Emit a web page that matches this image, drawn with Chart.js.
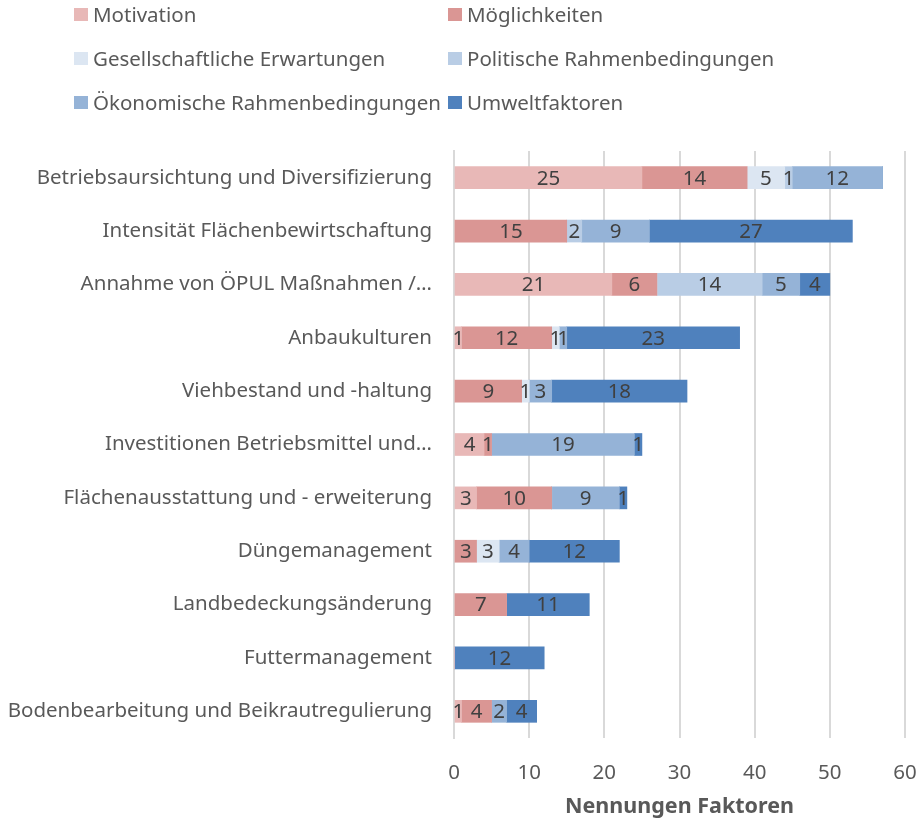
<!DOCTYPE html>
<html>
<head>
<meta charset="utf-8">
<script src="https://cdn.jsdelivr.net/npm/chart.js@4"></script>
<style>
  body { margin: 0; background: #fff; font-family: "Noto Sans", sans-serif; }
  #wrap { position: relative; width: 923px; height: 822px; }
  #legend { position: absolute; left: 74px; top: 3px; display: grid;
    grid-template-columns: 374px 320px; row-gap: 20px; }
  #legend div { position: relative; height: 24px; font-size: 20.5px; color: #595959; white-space: nowrap; }
  #legend span.sw { position: absolute; left: 0; top: 5px; width: 14px; height: 13px; }
  #legend span.tx { position: absolute; left: 19px; top: -1px; line-height: 24px; }
</style>
</head>
<body>
<div id="wrap">
  <div id="legend"></div>
  <canvas id="chart" width="923" height="822"></canvas>
</div>
<script>
const categories = [
  'Betriebsaursichtung und Diversifizierung',
  'Intensität Flächenbewirtschaftung',
  'Annahme von ÖPUL Maßnahmen /…',
  'Anbaukulturen',
  'Viehbestand und -haltung',
  'Investitionen Betriebsmittel und…',
  'Flächenausstattung und - erweiterung',
  'Düngemanagement',
  'Landbedeckungsänderung',
  'Futtermanagement',
  'Bodenbearbeitung und Beikrautregulierung'
];

const seriesNames = [
  'Motivation', 'Möglichkeiten', 'Gesellschaftliche Erwartungen',
  'Politische Rahmenbedingungen', 'Ökonomische Rahmenbedingungen', 'Umweltfaktoren'
];

const motivation    = [25, 0, 21, 1, 0, 4, 3, 0, 0, 0, 1];
const moeglichkeit  = [14, 15, 6, 12, 9, 1, 10, 3, 7, 0, 4];
const gesellschaft  = [5, 0, 0, 1, 1, 0, 0, 3, 0, 0, 0];
const politisch     = [1, 2, 14, 0, 0, 0, 0, 0, 0, 0, 0];
const oekonomisch   = [12, 9, 5, 1, 3, 19, 9, 4, 0, 0, 2];
const umwelt        = [0, 27, 4, 23, 18, 1, 1, 12, 11, 12, 4];

const xTicks = [0, 10, 20, 30, 40, 50, 60];

const colors = ['#e8b8b7', '#da9694', '#dce6f2', '#b9cde5', '#95b3d7', '#4f81bd'];
const allSeries = [motivation, moeglichkeit, gesellschaft, politisch, oekonomisch, umwelt];

// legend in two columns like the original
const legendEl = document.getElementById('legend');
seriesNames.forEach((name, i) => {
  const d = document.createElement('div');
  d.innerHTML = `<span class="sw" style="background:${colors[i]}"></span><span class="tx">${name}</span>`;
  legendEl.appendChild(d);
});

// value labels in the middle of each segment
const segmentLabels = {
  id: 'segmentLabels',
  afterDatasetsDraw(chart) {
    const ctx = chart.ctx;
    ctx.save();
    ctx.font = '20.5px "Noto Sans", sans-serif';
    ctx.fillStyle = '#404040';
    ctx.textAlign = 'center';
    ctx.textBaseline = 'middle';
    chart.data.datasets.forEach((ds, di) => {
      const meta = chart.getDatasetMeta(di);
      meta.data.forEach((bar, i) => {
        const v = ds.data[i];
        if (!v) return;
        ctx.fillText(String(v), (bar.x + bar.base) / 2, bar.y + 1);
      });
    });
    ctx.restore();
  }
};

new Chart(document.getElementById('chart'), {
  type: 'bar',
  data: {
    labels: categories,
    datasets: allSeries.map((data, i) => ({
      label: seriesNames[i],
      data: data,
      backgroundColor: colors[i],
      borderWidth: 0,
      barThickness: 22
    }))
  },
  options: {
    indexAxis: 'y',
    responsive: false,
    animation: false,
    layout: { padding: { top: 151, right: 0, left: 0, bottom: 0 } },
    plugins: {
      legend: { display: false },
      tooltip: { enabled: false }
    },
    scales: {
      x: {
        stacked: true,
        min: 0,
        max: 60,
        afterBuildTicks(scale) { scale.ticks = xTicks.map(v => ({ value: v })); },
        afterFit(scale) { scale.height = 84; scale.paddingRight = 18; },
        grid: { color: '#d9d9d9', lineWidth: 2, drawTicks: false },
        border: { display: false },
        ticks: { padding: 23, color: '#595959', font: { family: 'Noto Sans', size: 20.5 } },
        title: {
          display: true,
          text: 'Nennungen Faktoren',
          color: '#595959',
          font: { family: 'Noto Sans', size: 21.5, weight: 'bold' },
          padding: { top: 0, bottom: 2 }
        }
      },
      y: {
        stacked: true,
        afterFit(scale) { scale.width = 454; },
        grid: { display: false, drawTicks: false },
        border: { display: true, color: '#d9d9d9', width: 2 },
        ticks: { padding: 22, color: '#595959', font: { family: 'Noto Sans', size: 20.5 } }
      }
    }
  },
  plugins: [segmentLabels]
});
</script>
</body>
</html>
